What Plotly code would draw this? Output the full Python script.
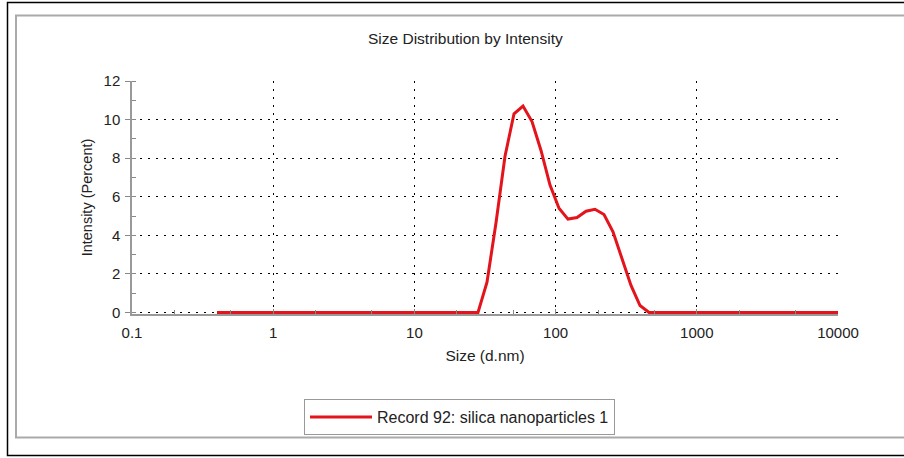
import plotly.graph_objects as go

# Size bins (d.nm) and intensity (%)
sizes = [0.4, 0.4632, 0.5365, 0.6213, 0.7195, 0.8332, 0.9649, 1.117, 1.294, 1.499,
         1.736, 2.010, 2.328, 2.696, 3.122, 3.615, 4.187, 4.849, 5.615, 6.503,
         7.531, 8.721, 10.10, 11.70, 13.54, 15.69, 18.17, 21.04, 24.36, 28.21,
         32.67, 37.84, 43.82, 50.75, 58.77, 68.06, 78.82, 91.28, 105.7, 122.4,
         141.8, 164.2, 190.1, 220.2, 255.0, 295.3, 342.0, 396.1, 458.7, 531.2,
         615.1, 712.4, 825.0, 955.4, 1106, 1281, 1484, 1718, 1990, 2305,
         2669, 3091, 3580, 4145, 4801, 5560, 6439, 7456, 8635, 10000]
intensity = [0]*29 + [0.0,
             1.57, 4.65, 8.1, 10.3, 10.7, 9.9, 8.4, 6.6, 5.4, 4.84,
             4.92, 5.25, 5.35, 5.08, 4.18, 2.77, 1.4, 0.36, 0.0, 0.0] + [0]*20
series_name = "Record 92: silica nanoparticles 1"
chart_title = "Size Distribution by Intensity"
x_ticks = [0.1, 1, 10, 100, 1000, 10000]
x_ticklabels = ["0.1", "1", "10", "100", "1000", "10000"]
y_ticks = [0, 2, 4, 6, 8, 10, 12]

W, H = 904, 458
L, R, T, B = 132, 838, 81, 314  # plot area in px
FONT = "Liberation Sans, Arial, sans-serif"
TXT = "#222222"

def px_x(p):
    return (p - L) / (R - L)

def px_y(p):
    return (B - p) / (B - T)

fig = go.Figure()
fig.add_trace(go.Scatter(
    x=sizes, y=intensity, mode="lines", name=series_name,
    line=dict(color="#e3141b", width=3),
))

fig.update_layout(
    width=W, height=H,
    margin=dict(l=L, r=W - R, t=T, b=H - B, pad=0),
    paper_bgcolor="white", plot_bgcolor="white",
    font=dict(family=FONT, size=15, color=TXT),
    showlegend=True,
    legend=dict(
        x=px_x(304), y=px_y(399), xanchor="left", yanchor="top",
        bordercolor="#999999", borderwidth=1, bgcolor="white",
        font=dict(size=16, color=TXT), itemwidth=62,
    ),
    annotations=[
        dict(text=chart_title, x=px_x(465), y=px_y(38), xref="paper", yref="paper",
             showarrow=False, font=dict(size=15.5, color=TXT), xanchor="center", yanchor="middle"),
    ],
    shapes=[
        dict(type="rect", xref="paper", yref="paper",
             x0=px_x(16), x1=px_x(910), y0=px_y(437.5), y1=px_y(15.5),
             line=dict(color="#aaaaaa", width=2), layer="below"),
        dict(type="rect", xref="paper", yref="paper",
             x0=px_x(7.5), x1=px_x(915), y0=px_y(455.5), y1=px_y(2.5),
             line=dict(color="#000000", width=1.5), layer="below"),
    ],
)

fig.update_xaxes(
    type="log", range=[-1, 4],
    tickvals=x_ticks, ticktext=x_ticklabels,
    showline=True, linecolor="#999999", linewidth=1.5,
    ticks="inside", ticklen=5, tickcolor="#888888",
    minor=dict(ticks="inside", ticklen=4, tickcolor="#888888", showgrid=False),
    showgrid=True, gridcolor="#000000", gridwidth=1.2, griddash="1.5px,6.5px",
    zeroline=False, ticklabelstandoff=4,
    title=dict(text="Size (d.nm)", font=dict(size=15.5, color=TXT), standoff=10),
)
fig.update_yaxes(
    range=[-0.08, 12], tickvals=y_ticks,
    showline=True, linecolor="#999999", linewidth=1.5,
    ticks="outside", ticklen=5, tickcolor="#888888",
    minor=dict(ticks="inside", ticklen=4, dtick=1, tickcolor="#888888", showgrid=False),
    showgrid=True, gridcolor="#000000", gridwidth=1.2, griddash="1.5px,6.5px",
    zeroline=False, ticklabelstandoff=2,
    title=dict(text="Intensity (Percent)", font=dict(size=14.5, color=TXT), standoff=7),
)

fig.write_html(
    "out.html",
    config={"displayModeBar": False},
    post_script="document.body.style.margin='0';document.body.style.overflow='hidden';",
)
